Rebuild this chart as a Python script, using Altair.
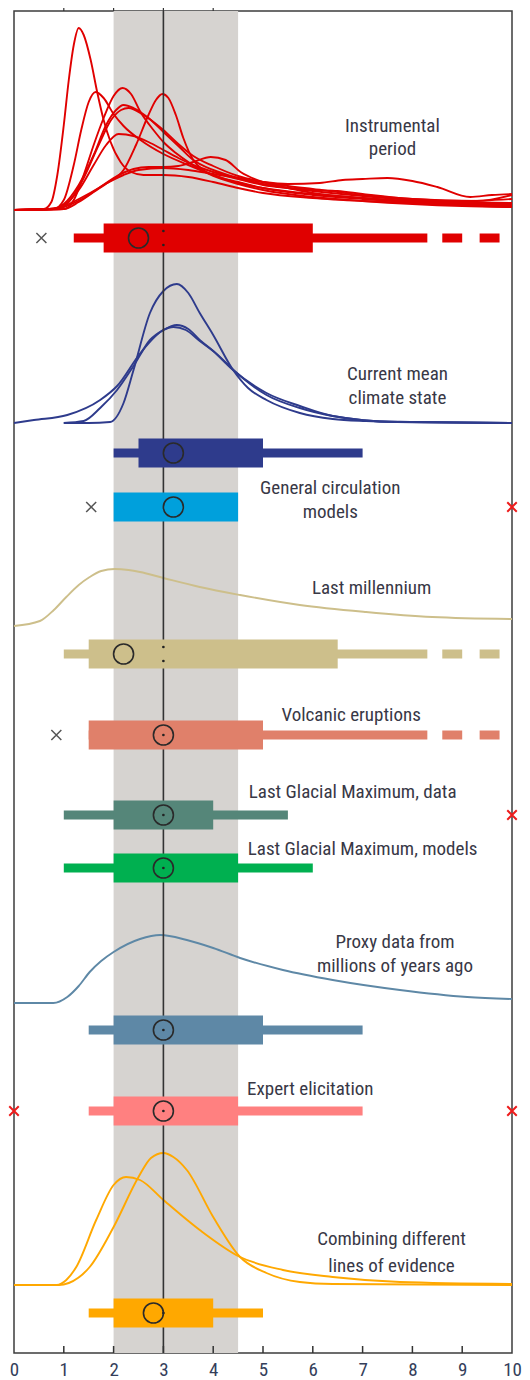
import altair as alt
import pandas as pd

# ---------------------------------------------------------------------------
# Equilibrium climate sensitivity (°C): distributions and ranges by line of evidence
# ---------------------------------------------------------------------------
X_TICKS = list(range(0, 11))
LIKELY_LOW, LIKELY_HIGH = 2.0, 4.5
BEST_ESTIMATE = 3.0

# Probability densities as (sensitivity, relative height) pairs
instrumental_1 = [(0, 0), (0.6, 1), (0.75, 8), (0.87, 35), (1.0, 85), (1.1, 130), (1.2, 165), (1.3, 182),
                  (1.4, 175), (1.54, 150), (1.67, 118), (1.8, 90), (1.94, 68), (2.14, 48), (2.35, 38),
                  (2.6, 35), (3.0, 35), (3.5, 33), (4.0, 28), (4.5, 22), (5.0, 17), (6.0, 12), (7.0, 9),
                  (8.0, 7), (9.0, 5), (10, 4)]
instrumental_2 = [(0, 0), (0.8, 1), (1.0, 10), (1.2, 45), (1.35, 80), (1.5, 108), (1.64, 118), (1.8, 112),
                  (2.0, 96), (2.2, 84), (2.54, 70), (3.0, 56), (3.5, 45), (4.0, 35), (4.5, 27), (5.0, 22),
                  (6.0, 16), (7.0, 12), (8.0, 9), (9.0, 7), (10, 6)]
instrumental_3 = [(0, 0), (1.0, 1), (1.2, 10), (1.4, 35), (1.6, 65), (1.8, 92), (2.0, 114), (2.18, 122),
                  (2.35, 116), (2.54, 98), (2.8, 80), (3.0, 68), (3.25, 57), (3.5, 48), (4.0, 34),
                  (4.5, 26), (5.0, 20), (6.0, 13), (7.0, 9), (8.0, 6), (9.0, 4), (10, 3)]
instrumental_4 = [(0, 0), (1.0, 1), (1.3, 8), (1.6, 18), (1.9, 28), (2.2, 40), (2.45, 65), (2.7, 95),
                  (2.85, 110), (2.98, 116), (3.1, 112), (3.25, 95), (3.4, 72), (3.6, 50), (3.8, 40),
                  (4.0, 35), (4.5, 28), (5.0, 22), (6.0, 15), (7.0, 11), (8.0, 8), (9.0, 6), (10, 5)]
instrumental_5 = [(0, 0), (0.8, 1), (1.0, 6), (1.3, 25), (1.6, 55), (1.85, 85), (2.05, 100), (2.2, 105),
                  (2.4, 102), (2.7, 92), (3.0, 78), (3.3, 64), (3.6, 50), (4.0, 40), (4.5, 32), (5.0, 26),
                  (5.5, 22), (6.0, 19), (7.0, 14), (8.0, 10), (9.0, 8), (10, 7)]
instrumental_6 = [(0, 0), (0.9, 1), (1.1, 8), (1.4, 32), (1.7, 65), (1.95, 90), (2.15, 100), (2.3, 102),
                  (2.6, 95), (3.0, 80), (3.3, 66), (3.6, 54), (4.0, 44), (4.5, 34), (5.0, 28), (5.5, 24),
                  (6.0, 21), (7.0, 15), (8.0, 11), (9.3, 9), (10, 15)]
instrumental_7 = [(0, 0), (0.8, 1), (1.0, 5), (1.3, 20), (1.6, 45), (1.85, 65), (2.1, 76), (2.4, 74),
                  (2.7, 68), (3.0, 60), (3.3, 52), (3.6, 45), (4.0, 38), (4.5, 31), (5.0, 25), (5.5, 22),
                  (6.0, 20), (6.5, 19), (7.0, 16), (8.0, 11), (9.0, 9), (10, 11)]
instrumental_8 = [(0, 0), (0.7, 1), (1.0, 4), (1.34, 12), (1.7, 22), (2.0, 32), (2.4, 41), (2.7, 43),
                  (3.0, 43), (3.3, 44), (3.6, 48), (3.95, 53), (4.25, 50), (4.55, 38), (5.0, 28),
                  (5.5, 22), (6.0, 17), (7.0, 12), (8.0, 8), (9.0, 5), (10, 3)]
instrumental_9 = [(0, 0), (0.7, 1), (1.0, 3), (1.4, 12), (1.8, 25), (2.2, 35), (2.5, 40), (3.0, 42),
                  (3.5, 40), (4.0, 36), (4.5, 32), (5.0, 28), (5.5, 26), (6.14, 27), (6.6, 30), (7.0, 31),
                  (7.5, 32), (8.0, 29), (8.5, 23), (9.16, 13), (9.6, 15), (10, 16)]

current_1 = [(1.0, 0), (1.5, 0), (1.93, 1), (2.2, 20), (2.4, 53), (2.73, 110), (3.0, 132), (3.27, 139),
             (3.5, 130), (3.73, 110), (4.0, 88), (4.4, 53), (4.7, 35), (5.07, 23), (5.74, 10), (6.4, 4),
             (7.07, 2), (8.0, 1), (10, 0)]
current_2 = [(1.0, 0), (1.4, 2), (1.73, 15), (2.07, 33), (2.4, 57), (2.73, 83), (3.0, 93), (3.27, 98),
             (3.5, 94), (3.73, 83), (4.0, 72), (4.4, 53), (5.07, 30), (5.74, 17), (6.4, 7), (7.7, 1),
             (10, 0)]
current_3 = [(0, 0), (0.4, 3), (1.07, 8), (1.73, 23), (2.07, 37), (2.54, 70), (3.0, 93), (3.2, 96),
             (3.45, 93), (3.73, 82), (4.0, 72), (4.54, 47), (5.07, 28), (5.74, 15), (6.4, 7), (7.7, 1),
             (10, 0)]

millennium = [(0, 0), (0.52, 5), (0.8, 16), (1.05, 29), (1.3, 41), (1.52, 49), (1.75, 55), (2.02, 57),
              (2.3, 56), (2.53, 54), (3.0, 48), (3.73, 39), (4.54, 31), (5.74, 21), (7.07, 14),
              (8.4, 9), (10, 7)]

proxy = [(0, 0), (0.79, 0), (1.07, 6), (1.3, 17), (1.52, 31), (1.75, 42), (2.0, 51), (2.53, 64),
         (2.94, 68), (3.47, 63), (4.0, 55), (4.54, 45), (5.4, 33), (6.4, 23), (7.75, 13), (9.1, 6),
         (10, 4)]

combining_1 = [(0, 0), (0.9, 0), (1.1, 2), (1.52, 18), (2.0, 58), (2.5, 108), (2.75, 127), (3.0, 132),
               (3.2, 128), (3.47, 115), (4.0, 68), (4.54, 28), (5.07, 12), (5.74, 3), (6.4, 1), (10, 0)]
combining_2 = [(0, 0), (0.86, 0), (1.05, 5), (1.25, 18), (1.65, 65), (2.0, 100), (2.25, 108), (2.53, 105),
               (3.0, 85), (3.73, 55), (4.54, 28), (5.4, 15), (6.4, 8), (7.75, 3), (10, 1)]

# Ranges per line of evidence: outer (thin) and inner (thick) bars, central value
ROWS = ["instrumental", "current", "gcm", "millennium", "volcanic",
        "lgm_data", "lgm_models", "proxy", "expert", "combining"]
outer_low = [1.2, 2.0, None, 1.0, 1.5, 1.0, 1.0, 1.5, 1.5, 1.5]
outer_high = [8.3, 7.0, None, 8.3, 8.3, 5.5, 6.0, 7.0, 7.0, 5.0]
inner_low = [1.8, 2.5, 2.0, 1.5, 1.5, 2.0, 2.0, 2.0, 2.0, 2.0]
inner_high = [6.0, 5.0, 4.5, 6.5, 5.0, 4.0, 4.5, 5.0, 4.5, 4.0]
central = [2.5, 3.2, 3.2, 2.2, 3.0, 3.0, 3.0, 3.0, 3.0, 2.8]

# Open-ended upper tails, drawn as dashes
tail_rows = ["instrumental", "millennium", "volcanic"]
tail_dashes = [(8.6, 9.0), (9.35, 9.75)]

# Single estimates outside the ranges (grey) and excluded estimates (red)
outlier_rows = ["instrumental", "gcm", "volcanic"]
outlier_values = [0.55, 1.55, 0.85]
excluded_rows = ["gcm", "lgm_data", "expert", "expert"]
excluded_values = [10, 10, 0, 10]

# Median marks at the best estimate
median_center_rows = ["volcanic", "lgm_data", "lgm_models", "proxy", "expert", "combining"]
median_pair_rows = ["instrumental", "millennium"]

COLORS = {
    "instrumental": "#e00000", "current": "#2e3b8c", "gcm": "#00a0dc",
    "millennium": "#cdbf8b", "volcanic": "#e0806a", "lgm_data": "#558679",
    "lgm_models": "#00b050", "proxy": "#5e88a6", "expert": "#ff8080",
    "combining": "#ffa800",
}

# ---------------------------------------------------------------------------
# Layout (vertical positions in pixels from the top of the plot area)
# ---------------------------------------------------------------------------
W, H = 498, 1342
BAR_Y = {"instrumental": 227, "current": 442, "gcm": 496, "millennium": 643, "volcanic": 724,
         "lgm_data": 804, "lgm_models": 857, "proxy": 1019, "expert": 1100, "combining": 1302}
CURVE_BASE = {"instrumental": 199, "current": 412, "millennium": 615, "proxy": 992, "combining": 1274}

LABELS = [
    ("Instrumental", 7.6, 115), ("period", 7.6, 138),
    ("Current mean", 7.7, 363), ("climate state", 7.7, 387),
    ("General circulation", 6.35, 477), ("models", 6.35, 501),
    ("Last millennium", 7.18, 577),
    ("Volcanic eruptions", 6.77, 704),
    ("Last Glacial Maximum, data", 6.8, 781),
    ("Last Glacial Maximum, models", 7.0, 838),
    ("Proxy data from", 7.65, 931), ("millions of years ago", 7.65, 955),
    ("Expert elicitation", 5.95, 1078),
    ("Combining different", 7.58, 1228), ("lines of evidence", 7.58, 1255),
]

FONT = "Noto Sans Condensed, Roboto Condensed, Liberation Sans Narrow, Roboto, sans-serif"
TEXT_COLOR = "#383846"

# ---------------------------------------------------------------------------
# Tables
# ---------------------------------------------------------------------------
curve_sets = {
    "instrumental": [instrumental_1, instrumental_2, instrumental_3, instrumental_4, instrumental_5,
                     instrumental_6, instrumental_7, instrumental_8, instrumental_9],
    "current": [current_1, current_2, current_3],
    "millennium": [millennium],
    "proxy": [proxy],
    "combining": [combining_1, combining_2],
}
curve_rows = []
for row, curves in curve_sets.items():
    for i, pts in enumerate(curves):
        for order, (x, h) in enumerate(pts):
            curve_rows.append({"row": row, "curve": f"{row}_{i}", "order": order,
                               "x": x, "y": CURVE_BASE[row] - h})
curves_df = pd.DataFrame(curve_rows)

bars_df = pd.DataFrame({"row": ROWS, "lo": outer_low, "hi": outer_high, "ilo": inner_low,
                        "ihi": inner_high, "mid": central})
bars_df["y"] = bars_df["row"].map(BAR_Y)
outer_df = bars_df.dropna(subset=["lo"])

tails_df = pd.DataFrame([{"row": r, "lo": a, "hi": b, "y": BAR_Y[r]}
                         for r in tail_rows for a, b in tail_dashes])

outliers_df = pd.DataFrame({"row": outlier_rows, "x": outlier_values})
outliers_df["y"] = outliers_df["row"].map(BAR_Y)
excluded_df = pd.DataFrame({"row": excluded_rows, "x": excluded_values})
excluded_df["y"] = excluded_df["row"].map(BAR_Y)

med_c = pd.DataFrame({"row": median_center_rows, "x": BEST_ESTIMATE})
med_c["y"] = med_c["row"].map(BAR_Y)
med_p = pd.DataFrame([{"row": r, "x": BEST_ESTIMATE, "y": BAR_Y[r] + d}
                      for r in median_pair_rows for d in (-7, 7)])

labels_df = pd.DataFrame(LABELS, columns=["text", "x", "y"])
band_df = pd.DataFrame({"lo": [LIKELY_LOW], "hi": [LIKELY_HIGH]})
best_df = pd.DataFrame({"x": [BEST_ESTIMATE]})
ticks_df = pd.DataFrame({"x": X_TICKS})

# ---------------------------------------------------------------------------
# Encodings
# ---------------------------------------------------------------------------
xs = alt.Scale(domain=[0, 10], nice=False, zero=False)
ys = alt.Scale(domain=[0, H], reverse=True, nice=False, zero=False)
color = alt.Color("row:N", scale=alt.Scale(domain=list(COLORS), range=list(COLORS.values())), legend=None)

x_axis = alt.Axis(values=X_TICKS, grid=False, domain=False, ticks=False, title=None,
                  labelFont=FONT, labelFontSize=19, labelColor="#343e5a", labelPadding=7,
                  labelFlush=False, labelOverlap=False)

band = alt.Chart(band_df).mark_rect(color="#d6d3d0").encode(
    x=alt.X("lo:Q", scale=xs, axis=x_axis), x2="hi:Q")

curves = alt.Chart(curves_df).mark_line(strokeWidth=1.9, interpolate="monotone").encode(
    x=alt.X("x:Q", scale=xs), y=alt.Y("y:Q", scale=ys, axis=None),
    color=color, detail="curve:N", order="order:Q")

best_line = alt.Chart(best_df).mark_rule(color="#333333", strokeWidth=1.6).encode(
    x=alt.X("x:Q", scale=xs))

inner_ticks = alt.Chart(ticks_df[(ticks_df.x > 0) & (ticks_df.x < 10)]).mark_rule(
    color="#333333", strokeWidth=1.5).encode(
    x=alt.X("x:Q", scale=xs), y=alt.value(H - 7), y2=alt.value(H))
top_ticks = alt.Chart(ticks_df[(ticks_df.x > 0) & (ticks_df.x < 5)]).mark_rule(
    color="#333333", strokeWidth=1.2).encode(
    x=alt.X("x:Q", scale=xs), y=alt.value(-3), y2=alt.value(0))

outer = alt.Chart(outer_df).mark_rule(strokeCap="butt").encode(
    x=alt.X("lo:Q", scale=xs), x2="hi:Q", y=alt.Y("y:Q", scale=ys), color=color, size=alt.value(9))
tails = alt.Chart(tails_df).mark_rule(strokeCap="butt").encode(
    x=alt.X("lo:Q", scale=xs), x2="hi:Q", y=alt.Y("y:Q", scale=ys), color=color, size=alt.value(9))
inner = alt.Chart(bars_df).mark_rule(strokeCap="butt").encode(
    x=alt.X("ilo:Q", scale=xs), x2="ihi:Q", y=alt.Y("y:Q", scale=ys), color=color, size=alt.value(29))

circles = alt.Chart(bars_df).mark_point(shape="circle", filled=False, size=400, strokeWidth=1.6,
                                        color="#2a2a2a", opacity=1).encode(
    x=alt.X("mid:Q", scale=xs), y=alt.Y("y:Q", scale=ys))

dots_c = alt.Chart(med_c).mark_point(shape="circle", filled=True, size=7, color="#222222", opacity=1).encode(
    x=alt.X("x:Q", scale=xs), y=alt.Y("y:Q", scale=ys))
dots_p = alt.Chart(med_p).mark_point(shape="circle", filled=True, size=7, color="#222222", opacity=1).encode(
    x=alt.X("x:Q", scale=xs), y=alt.Y("y:Q", scale=ys))

X_SHAPE = "M-1,-1L1,1M-1,1L1,-1"
outl = alt.Chart(outliers_df).mark_point(shape=X_SHAPE, filled=False, size=100, strokeWidth=1.5,
                                         color="#555555", opacity=1).encode(
    x=alt.X("x:Q", scale=xs), y=alt.Y("y:Q", scale=ys))
excl = alt.Chart(excluded_df).mark_point(shape=X_SHAPE, filled=False, size=90, strokeWidth=2,
                                         color="#ee1c1c", opacity=1).encode(
    x=alt.X("x:Q", scale=xs), y=alt.Y("y:Q", scale=ys))

labels = alt.Chart(labels_df).mark_text(font=FONT, fontSize=19, color=TEXT_COLOR,
                                        align="center", baseline="middle").encode(
    x=alt.X("x:Q", scale=xs), y=alt.Y("y:Q", scale=ys), text="text:N")

chart = alt.layer(
    band, curves, best_line, inner_ticks, top_ticks, outer, tails, inner,
    dots_c, dots_p, circles, outl, excl, labels,
).properties(
    width=W, height=H,
    padding={"left": 14, "top": 11, "right": 18, "bottom": 27},
    autosize=alt.AutoSizeParams(type="none"),
    background="white",
).configure_view(stroke="#3c3c3c", strokeWidth=1.5)

chart.save("out.html", embed_options={"renderer": "svg", "actions": False})
